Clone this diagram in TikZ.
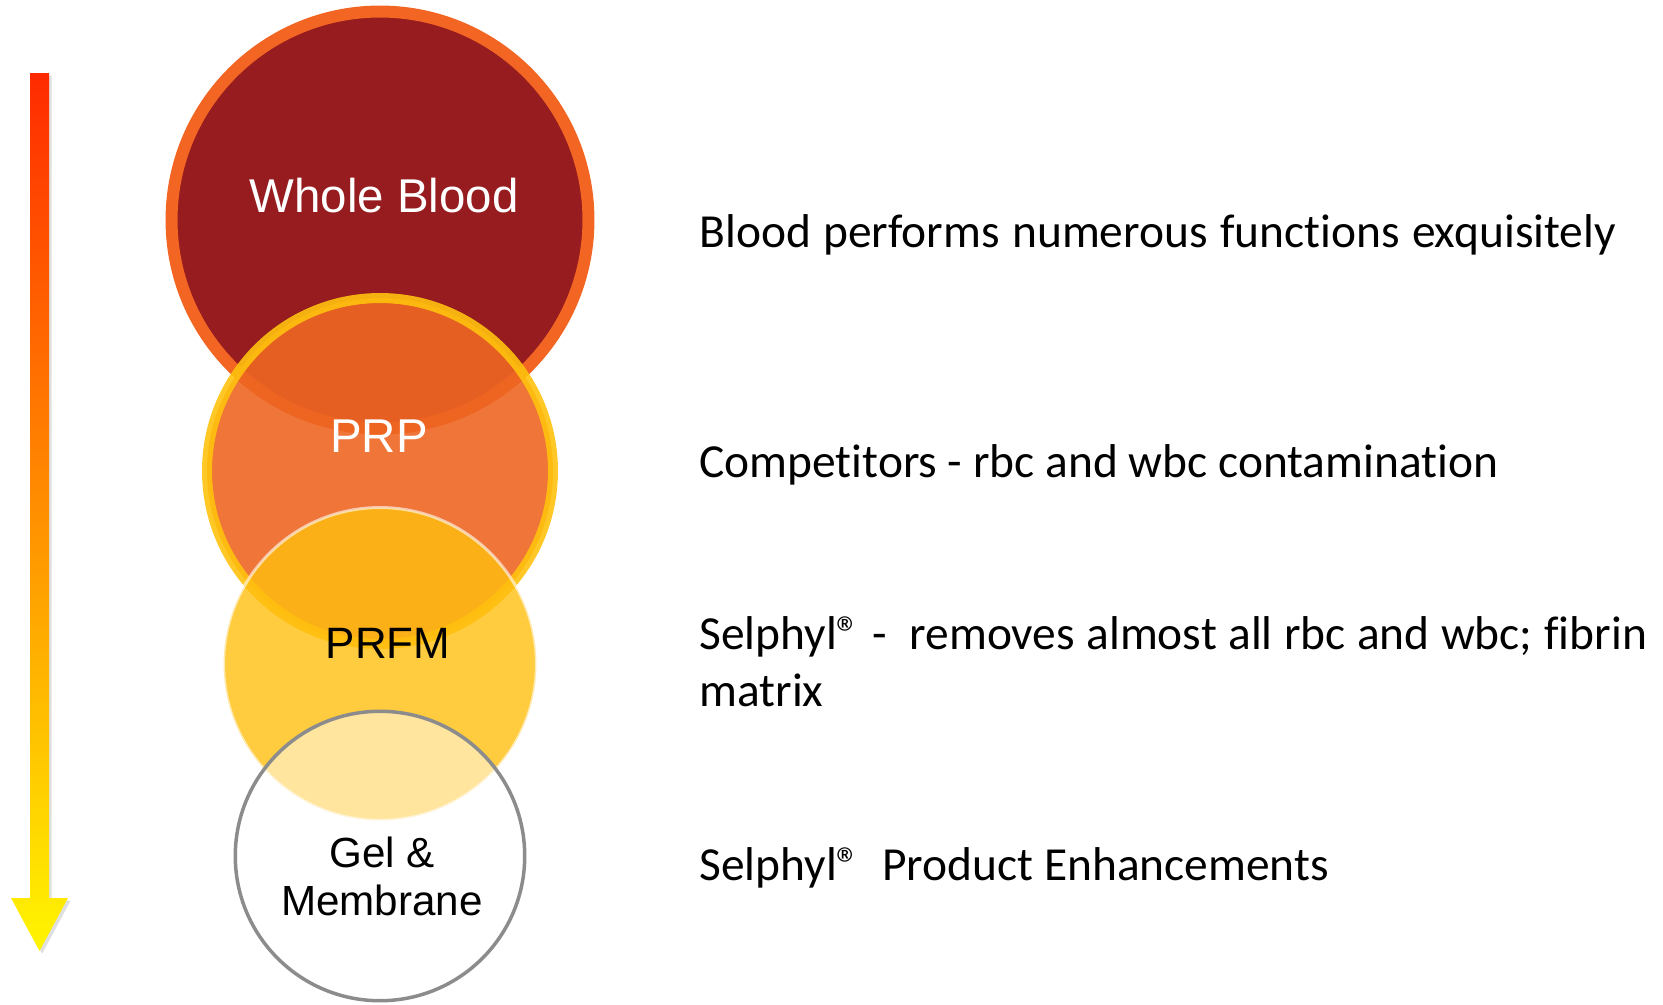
\documentclass[tikz,border=0pt]{standalone}
\usepackage{fontspec}
\setmainfont{Carlito}[Ligatures=NoCommon]
\newfontfamily\arialfont{Liberation Sans}
\usetikzlibrary{shadows}

\definecolor{bloodred}{HTML}{961C1F}
\definecolor{bloodrim}{HTML}{F26522}
\definecolor{prpfill}{HTML}{EE6623}
\definecolor{prprim}{HTML}{FFC20E}
\definecolor{prfmfill}{HTML}{FFBF0F}
\definecolor{gelrim}{HTML}{8C8C8C}
\definecolor{arrowtop}{HTML}{FF2A00}
\definecolor{arrowmid}{HTML}{FF9A00}
\definecolor{arrowbot}{HTML}{FFF500}

\begin{document}
\begin{tikzpicture}[x=0.02cm, y=-0.02cm,
    blob/.style={circle, inner sep=0pt},
    ring/.style={font=\arialfont\fontsize{27}{29.6}\selectfont, align=center, inner sep=0pt, anchor=base},
    note/.style={anchor=base west, inner sep=0pt, align=left, font=\fontsize{27}{31.9}\selectfont}]

    \useasboundingbox (0,0) rectangle (1663,1004);

    % Arrow red -> yellow
    \path[drop shadow={shadow xshift=1.5pt, shadow yshift=-1.5pt, opacity=0.25},
          top color=arrowtop, middle color=arrowmid, bottom color=arrowbot]
        (30,73) -- (49,73) -- (49,898) -- (68,898) -- (39.5,951) -- (11,898) -- (30,898) -- cycle;

    % Circles, each one lying over the one before
    \node[blob, minimum size=8.34cm, fill=bloodred, draw=bloodrim, line width=0.24cm] at (380, 220) (wb) {};
    \node[blob, minimum size=6.92cm, fill=prpfill, draw=prprim, line width=0.2cm, opacity=0.9] at (380, 471) (prp) {};
    \node[blob, minimum size=6.26cm, fill=prfmfill, fill opacity=0.8, draw=white, draw opacity=0.6, line width=0.06cm] at (380, 664) (prfm) {};
    \node[blob, minimum size=5.79cm, fill=white, fill opacity=0.5, draw=gelrim, line width=0.07cm] at (380, 856) (gel) {};

    % Circle labels
    \node[ring, text=white] at (384, 212) (wbtxt)   {Whole Blood};
    \node[ring, text=white] at (379, 452) (prptxt)  {PRP};
    \node[ring, font=\arialfont\fontsize{25}{28}\selectfont] at (388, 658) (prfmtxt) {PRFM};
    \node[ring, font=\arialfont\fontsize{24}{27.3}\selectfont] at (382, 915) (geltxt)  {Gel \&\\Membrane};

    % Notes on the right
    \node[note] at (699, 247) (n1) {\makebox[18.34cm][s]{Blood performs numerous functions exquisitely}};
    \node[note] at (699, 477) (n2) {Competitors - rbc and wbc contamination};
    \node[note] at (699, 706) (n3) {\makebox[18.96cm][s]{Selphyl® -\ \ removes almost all rbc and wbc; fibrin}\\matrix};
    \node[note] at (699, 880) (n4) {Selphyl®\ \ Product Enhancements};

\end{tikzpicture}
\end{document}
